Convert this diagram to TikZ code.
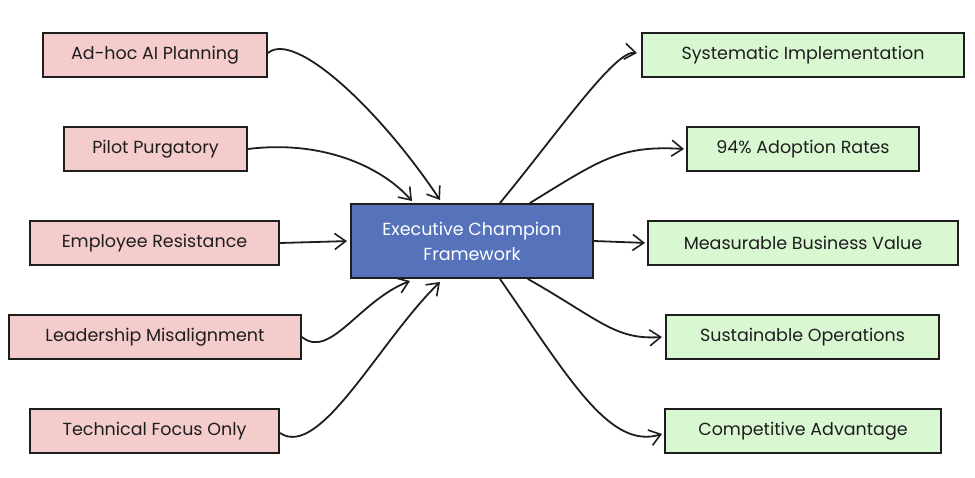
\documentclass[tikz,border=0pt]{standalone}
\usepackage{fontspec}
\setmainfont{Poppins}
\usetikzlibrary{arrows.meta,positioning}
\definecolor{inkc}{HTML}{1E1E1E}
\definecolor{pinkfill}{HTML}{F4CCCC}
\definecolor{greenfill}{HTML}{D9F8D2}
\definecolor{bluefill}{HTML}{5572BA}
\tikzset{
  box/.style={draw=inkc, line width=2pt, minimum height=44pt, inner sep=0pt,
    font=\fontsize{17.5}{20}\selectfont, text=inkc},
  probbox/.style={box, fill=pinkfill},
  goalbox/.style={box, fill=greenfill},
  hubbox/.style={draw=inkc, line width=2pt, fill=bluefill, text=white,
    minimum width=242pt, minimum height=74pt, align=center,
    font=\fontsize{17.5}{25}\selectfont},
  link/.style={draw=inkc, line width=1.8pt, line cap=round,
    -{Straight Barb[length=11pt,width=16pt,line width=1.6pt]}}
}
\begin{document}
\begin{tikzpicture}[x=1pt,y=-1pt]
\useasboundingbox (0,0) rectangle (975,477);
% hub
\node[hubbox] (c) at (472,241) {Executive Champion\\Framework};
% left boxes
\node[probbox, minimum width=224pt] (a1) at (155,55) {Ad-hoc AI Planning};
\node[probbox, minimum width=183pt] (a2) at (155.5,149) {Pilot Purgatory};
\node[probbox, minimum width=249pt] (a3) at (154.5,243) {Employee Resistance};
\node[probbox, minimum width=292pt] (a4) at (155,337) {Leadership Misalignment};
\node[probbox, minimum width=249pt] (a5) at (154.5,431) {Technical Focus Only};
% right boxes
\node[goalbox, minimum width=322pt] (b1) at (803,55) {Systematic Implementation};
\node[goalbox, minimum width=232pt] (b2) at (803,149) {94\% Adoption Rates};
\node[goalbox, minimum width=310pt] (b3) at (803,243) {Measurable Business Value};
\node[goalbox, minimum width=273pt] (b4) at (802.5,337) {Sustainable Operations};
\node[goalbox, minimum width=276pt] (b5) at (803,431) {Competitive Advantage};
% helper coordinates on the hub
\coordinate (cn1) at ([xshift=-32pt,yshift=3pt]c.north);
\coordinate (cn2) at ([xshift=-60pt,yshift=2pt]c.north);
\coordinate (cs1) at ([xshift=-62pt,yshift=-2pt]c.south);
\coordinate (cs2) at ([xshift=-32pt,yshift=-3pt]c.south);
\coordinate (cno1) at ([xshift=28pt]c.north);
\coordinate (cno2) at ([xshift=58pt]c.north);
\coordinate (cso1) at ([xshift=56pt]c.south);
\coordinate (cso2) at ([xshift=28pt]c.south);
% start points on left boxes
\coordinate (s1) at ([yshift=2pt]a1.east);
\coordinate (s5) at ([yshift=-2pt]a5.east);
% targets on right boxes
\coordinate (t1) at ([xshift=-4pt,yshift=2pt]b1.west);
\coordinate (t2) at ([xshift=-2pt]b2.west);
\coordinate (t4) at ([xshift=-3pt]b4.west);
\coordinate (t5) at ([xshift=-2pt,yshift=-3pt]b5.west);
% left connectors
\draw[link] (s1) .. controls (295,30) and (380,110) .. (cn1);
\draw[link] (a2.east) .. controls (320,140) and (380,165) .. (cn2);
\draw[link, shorten >=3pt] (a3.east) -- (c.west);
\draw[link] (a4.east) .. controls (330,360) and (360,300) .. (cs1);
\draw[link] (s5) .. controls (320,460) and (380,340) .. (cs2);
% right connectors
\draw[link] (cno1) .. controls (560,130) and (615,50) .. (t1);
\draw[link] (cno2) .. controls (600,160) and (620,145) .. (t2);
\draw[link, shorten >=2pt] (c.east) -- (b3.west);
\draw[link] (cso1) .. controls (600,320) and (615,340) .. (t4);
\draw[link] (cso2) .. controls (570,380) and (610,450) .. (t5);
\end{tikzpicture}
\end{document}
